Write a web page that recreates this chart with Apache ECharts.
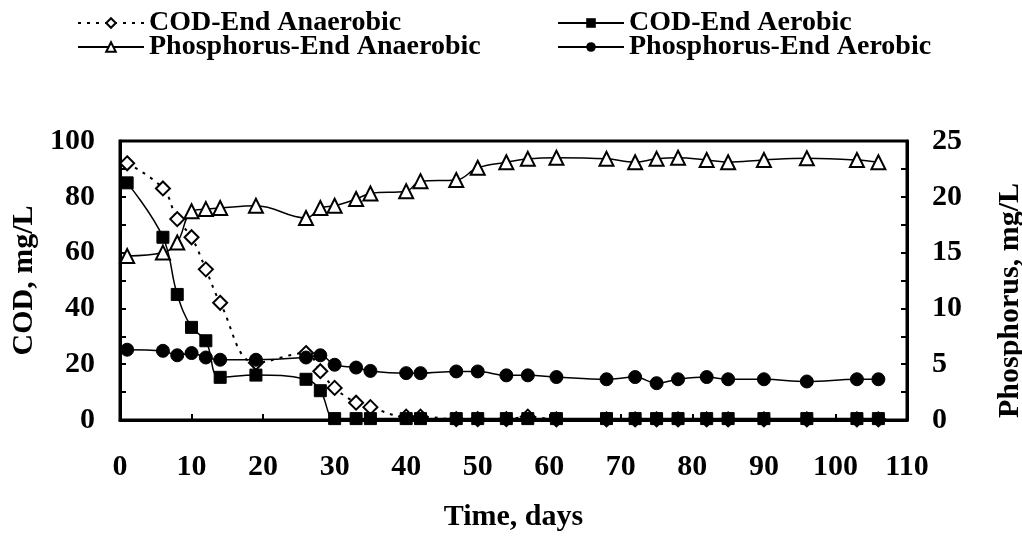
<!DOCTYPE html>
<html>
<head>
<meta charset="utf-8">
<script src="https://cdn.jsdelivr.net/npm/echarts@6/dist/echarts.min.js"></script>
<style>
  html, body { margin: 0; padding: 0; background: #fff; }
  #main { width: 1022px; height: 543px; }
</style>
</head>
<body>
<div id="main"></div>
<script>
// sampling days
const days = [1, 6, 8, 10, 12, 14, 19, 26, 28, 30, 33, 35, 40, 42, 47, 50, 54, 57, 61, 68, 72, 75, 78, 82, 85, 90, 96, 103, 106];
// COD, mg/L (left axis)
const codAnaerobic = [92, 83, 72, 65.5, 54, 42, 20.5, 24, 17.5, 11.5, 6.2, 4.6, 1.2, 1.2, 0.3, 0.3, 0.3, 1.2, 0.2, 0.2, 0.2, 0.2, 0.2, 0.2, 0.2, 0.2, 0.2, 0.2, 0.2];
const codAerobic = [85, 65.5, 45, 33.2, 28.4, 15.3, 16.1, 14.6, 10.5, 0.5, 0.5, 0.5, 0.5, 0.5, 0.5, 0.5, 0.5, 0.5, 0.5, 0.5, 0.5, 0.5, 0.5, 0.5, 0.5, 0.5, 0.5, 0.5, 0.5];
// Phosphorus, mg/L (right axis)
const phosAnaerobic = [14.7, 15, 15.9, 18.7, 18.9, 19, 19.2, 18.1, 19, 19.2, 19.8, 20.3, 20.5, 21.4, 21.5, 22.6, 23.1, 23.4, 23.5, 23.4, 23.1, 23.4, 23.5, 23.3, 23.1, 23.3, 23.45, 23.3, 23.1];
const phosAerobic = [6.3, 6.2, 5.8, 6.0, 5.6, 5.4, 5.4, 5.6, 5.8, 4.95, 4.7, 4.4, 4.2, 4.2, 4.35, 4.35, 4.0, 4.0, 3.85, 3.65, 3.85, 3.3, 3.65, 3.85, 3.65, 3.65, 3.45, 3.65, 3.65];

const font = '"Liberation Serif", "Times New Roman", serif';
const pairs = (ys) => days.map((d, i) => [d, ys[i]]);

const chart = echarts.init(document.getElementById('main'));

const axisText = { color: '#000', fontFamily: font, fontWeight: 'bold', fontSize: 30 };
const legendBase = {
  orient: 'vertical',
  top: 4,
  itemWidth: 66,
  itemHeight: 12,
  itemGap: -4,
  textStyle: { color: '#000', fontFamily: font, fontWeight: 'bold', fontSize: 28, lineHeight: 24 }
};

chart.setOption({
  backgroundColor: '#fff',
  animation: false,
  legend: [
    Object.assign({}, legendBase, { left: 72, data: ['COD-End Anaerobic', 'Phosphorus-End Anaerobic'] }),
    Object.assign({}, legendBase, { left: 552, data: ['COD-End Aerobic', 'Phosphorus-End Aerobic'] })
  ],
  grid: {
    left: 120, right: 115, top: 141, bottom: 123,
    outerBoundsMode: 'none',
    show: true, borderColor: '#000', borderWidth: 3
  },
  xAxis: {
    type: 'value', min: 0, max: 110, interval: 10,
    name: 'Time, days', nameLocation: 'middle', nameGap: 82,
    nameTextStyle: axisText,
    axisLine: { lineStyle: { color: '#000', width: 3 } },
    axisTick: { inside: true, length: 6, lineStyle: { color: '#000', width: 2 } },
    axisLabel: Object.assign({ margin: 32 }, axisText),
    splitLine: { show: false }
  },
  yAxis: [
    {
      type: 'value', min: 0, max: 100, interval: 10,
      name: 'COD, mg/L', nameLocation: 'middle', nameGap: 78, nameRotate: 90,
      nameTextStyle: axisText,
      axisLine: { show: true, lineStyle: { color: '#000', width: 3 } },
      axisTick: { show: true, inside: true, length: 6, lineStyle: { color: '#000', width: 2 } },
      axisLabel: Object.assign({ margin: 25, formatter: v => (v % 20 === 0 ? v : '') }, axisText),
      splitLine: { show: false }
    },
    {
      type: 'value', min: 0, max: 25, interval: 2.5,
      name: 'Phosphorus, mg/L', nameLocation: 'middle', nameGap: 88, nameRotate: 90,
      nameTextStyle: Object.assign({ padding: [0, 40, 0, 0] }, axisText),
      axisLine: { show: true, lineStyle: { color: '#000', width: 3 } },
      axisTick: { show: true, inside: true, length: 6, lineStyle: { color: '#000', width: 2 } },
      axisLabel: Object.assign({ margin: 25, formatter: v => (v % 5 === 0 ? v : '') }, axisText),
      splitLine: { show: false }
    }
  ],
  series: [
    {
      name: 'COD-End Anaerobic', type: 'line', yAxisIndex: 0, smooth: 0.4,
      symbol: 'diamond', symbolSize: 14,
      itemStyle: { color: '#fff', borderColor: '#000', borderWidth: 2 },
      lineStyle: { color: '#000', width: 2, type: [3, 6] },
      data: pairs(codAnaerobic)
    },
    {
      name: 'COD-End Aerobic', type: 'line', yAxisIndex: 0, smooth: 0.4,
      symbol: 'rect', symbolSize: 12,
      itemStyle: { color: '#000', borderColor: '#000' },
      lineStyle: { color: '#000', width: 1.5 },
      data: pairs(codAerobic)
    },
    {
      name: 'Phosphorus-End Anaerobic', type: 'line', yAxisIndex: 1, smooth: 0.4,
      symbol: 'triangle', symbolSize: 14,
      itemStyle: { color: '#fff', borderColor: '#000', borderWidth: 2 },
      lineStyle: { color: '#000', width: 1.5 },
      data: pairs(phosAnaerobic)
    },
    {
      name: 'Phosphorus-End Aerobic', type: 'line', yAxisIndex: 1, smooth: 0.4,
      symbol: 'circle', symbolSize: 13,
      itemStyle: { color: '#000', borderColor: '#000' },
      lineStyle: { color: '#000', width: 1.5 },
      data: pairs(phosAerobic)
    }
  ]
});

window.onresize = function () {
  chart.resize();
};
</script>
</body>
</html>
